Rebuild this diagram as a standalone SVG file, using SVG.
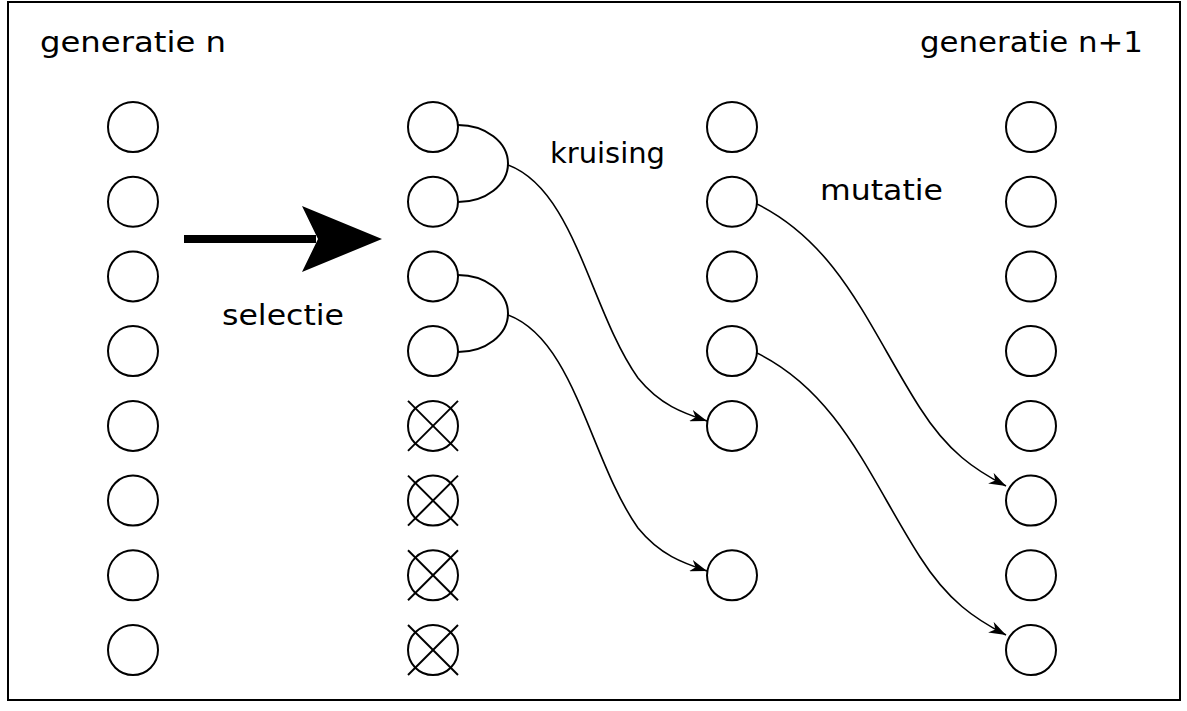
<svg xmlns="http://www.w3.org/2000/svg" width="1187" height="711" viewBox="0 0 1187 711">
<style>
.n{fill:#fff;stroke:#000;stroke-width:2}
.x{stroke:#000;stroke-width:2}
.c{fill:none;stroke:#000;stroke-width:1.6}
.t{font-family:"DejaVu Sans","Liberation Sans",sans-serif;font-size:29px;fill:#000}
</style>
<defs>
<marker id="ah" markerWidth="18" markerHeight="12" refX="17" refY="6" orient="auto" markerUnits="userSpaceOnUse">
<path d="M0,0 L17,6 L0,12 L5,6 Z" fill="#000"/>
</marker>
<g id="cx"><circle class="n" r="25"/><line class="x" x1="-25" y1="-25" x2="25" y2="25"/><line class="x" x1="-25" y1="25" x2="25" y2="-25"/></g>
</defs>
<rect x="8" y="2" width="1172" height="698" fill="#fff" stroke="#000" stroke-width="2"/>
<g id="labels">
<text class="t" x="40" y="52" textLength="186" lengthAdjust="spacingAndGlyphs">generatie n</text>
<text class="t" x="920" y="52" textLength="223" lengthAdjust="spacingAndGlyphs">generatie n+1</text>
<text class="t" x="550" y="163" textLength="115" lengthAdjust="spacingAndGlyphs">kruising</text>
<text class="t" x="820" y="200" textLength="123" lengthAdjust="spacingAndGlyphs">mutatie</text>
<text class="t" x="222" y="325" textLength="122" lengthAdjust="spacingAndGlyphs">selectie</text>
</g>
<g id="col1">
<circle class="n" cx="133" cy="127" r="25"/>
<circle class="n" cx="133" cy="201.7" r="25"/>
<circle class="n" cx="133" cy="276.4" r="25"/>
<circle class="n" cx="133" cy="351.1" r="25"/>
<circle class="n" cx="133" cy="425.9" r="25"/>
<circle class="n" cx="133" cy="500.6" r="25"/>
<circle class="n" cx="133" cy="575.3" r="25"/>
<circle class="n" cx="133" cy="650" r="25"/>
</g>
<g id="col2">
<circle class="n" cx="433" cy="127" r="25"/>
<circle class="n" cx="433" cy="201.7" r="25"/>
<circle class="n" cx="433" cy="276.4" r="25"/>
<circle class="n" cx="433" cy="351.1" r="25"/>
<use href="#cx" x="433" y="425.9"/>
<use href="#cx" x="433" y="500.6"/>
<use href="#cx" x="433" y="575.3"/>
<use href="#cx" x="433" y="650"/>
</g>
<g id="col3">
<circle class="n" cx="732" cy="127" r="25"/>
<circle class="n" cx="732" cy="201.7" r="25"/>
<circle class="n" cx="732" cy="276.4" r="25"/>
<circle class="n" cx="732" cy="351.1" r="25"/>
<circle class="n" cx="732" cy="425.9" r="25"/>
<circle class="n" cx="732" cy="575.3" r="25"/>
</g>
<g id="col4">
<circle class="n" cx="1031" cy="127" r="25"/>
<circle class="n" cx="1031" cy="201.7" r="25"/>
<circle class="n" cx="1031" cy="276.4" r="25"/>
<circle class="n" cx="1031" cy="351.1" r="25"/>
<circle class="n" cx="1031" cy="425.9" r="25"/>
<circle class="n" cx="1031" cy="500.6" r="25"/>
<circle class="n" cx="1031" cy="575.3" r="25"/>
<circle class="n" cx="1031" cy="650" r="25"/>
</g>
<g id="connectors">
<path d="M184,239 L316,239" stroke="#000" stroke-width="8"/>
<path d="M302,206 L382,239 L302,272 L318,239 Z" fill="#000"/>
<path class="c" style="stroke-width:2" d="M458,125 A50,38.5 0 0 1 458,202"/>
<path class="c" style="stroke-width:2" d="M458,275 A50,38.5 0 0 1 458,352"/>
<path class="c" marker-end="url(#ah)" d="M508,165 C575,190 590,310 638,378 C660,405 683,413 707,421"/>
<path class="c" marker-end="url(#ah)" d="M508,315 C575,340 590,460 638,528 C660,555 683,563 707,571"/>
<path class="c" marker-end="url(#ah)" d="M757,204 C840,245 870,330 920,408 C948,452 975,470 1006,486"/>
<path class="c" marker-end="url(#ah)" d="M757,353 C840,394 870,479 920,557 C948,601 975,619 1006,635"/>
</g>
</svg>
